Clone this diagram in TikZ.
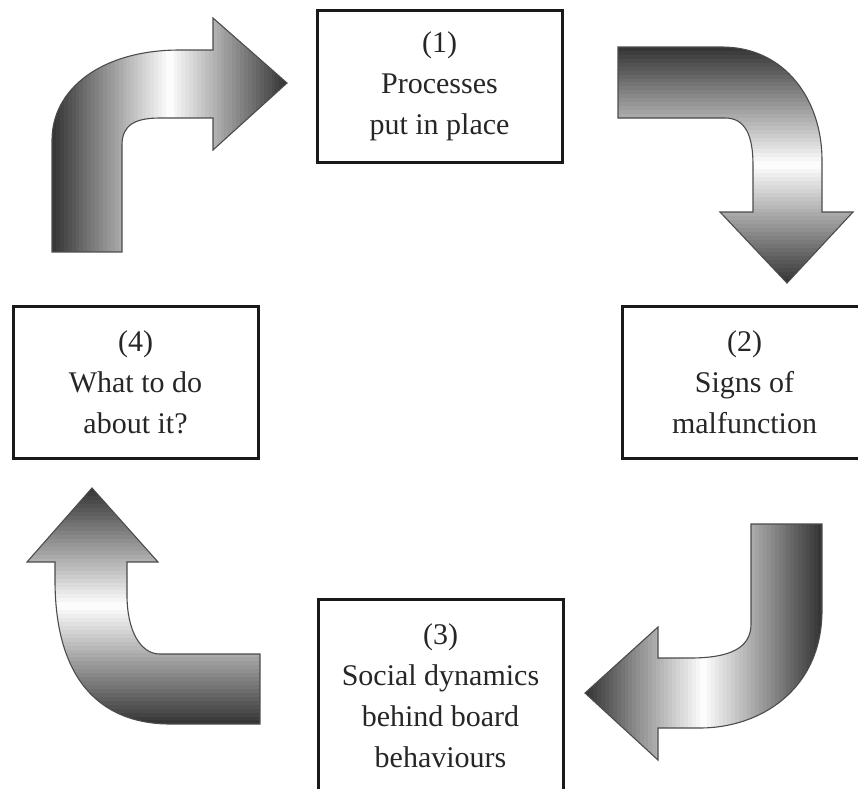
\documentclass[tikz,border=0pt]{standalone}
\usepackage{fontspec}
\setmainfont{Liberation Serif}
\usetikzlibrary{positioning}

\begin{document}
\begin{tikzpicture}[
    x=1pt, y=-1pt,
    box/.style={draw=black!90, line width=3pt, align=center, inner sep=0pt,
        minimum width=245pt, minimum height=152pt, text=black!85,
        node font=\fontsize{30}{41}\selectfont},
    bend arrow/.style={draw=black!70, line width=1.1pt, line join=miter},
]
\useasboundingbox (0,0) rectangle (858,788);

\node[box] (put) at (439.5,86) {(1)\\ Processes\\ put in place};
\node[box] (sign) at (744.5,382.5) {(2)\\ Signs of\\ malfunction};
\node[box, minimum height=194pt] (soc) at (440.5,696) {(3)\\ Social dynamics\\ behind board\\ behaviours};
\node[box] (todo) at (135.5,382) {(4)\\ What to do\\ about it?};

% (4) -> (1)
\path[save path=\arrA] (52,252) -- (52,140) .. controls (52,90) and (100,50) .. (180,50)
    -- (213,50) -- (213,18) -- (287,83) -- (213,150) -- (213,118) -- (160,118)
    .. controls (135,118) and (122,125) .. (122,145) -- (122,252) -- cycle;
% (1) -> (2)
\path[save path=\arrB] (618,47) -- (722,47) .. controls (785,47) and (822,100) .. (822,160)
    -- (822,212) -- (853,212) -- (787,283) -- (720,212) -- (753,212) -- (753,165)
    .. controls (753,135) and (745,118) .. (725,118) -- (618,118) -- cycle;
% (2) -> (3)
\path[save path=\arrC] (822,524) -- (822,610) .. controls (822,690) and (760,728) .. (700,728)
    -- (658,728) -- (658,760) -- (585,693) -- (658,627) -- (658,658) -- (690,658)
    .. controls (730,658) and (751,648) .. (751,624) -- (751,524) -- cycle;
% (3) -> (4)
\path[save path=\arrD] (260,724) -- (170,724) .. controls (110,724) and (55,690) .. (55,580)
    -- (55,562) -- (27,562) -- (92,488) -- (158,562) -- (127,562) -- (127,595)
    .. controls (127,630) and (140,654) .. (160,654) -- (260,654) -- cycle;

% dark - white - dark strips
\begin{scope}
\clip[use path=\arrA];
\foreach \i in {0,...,59} {
    \pgfmathsetmacro\s{80*abs(2*(\i+0.5)/60-1)}
    \fill[black!\s] ({52+\i*3.92},18) rectangle ({52.6+(\i+1)*3.92},252);
}
\end{scope}
\begin{scope}
\clip[use path=\arrB];
\foreach \i in {0,...,59} {
    \pgfmathsetmacro\s{80*abs(2*(\i+0.5)/60-1)}
    \fill[black!\s] (618,{47+\i*3.94}) rectangle (853,{47.6+(\i+1)*3.94});
}
\end{scope}
\begin{scope}
\clip[use path=\arrC];
\foreach \i in {0,...,59} {
    \pgfmathsetmacro\s{80*abs(2*(\i+0.5)/60-1)}
    \fill[black!\s] ({585+\i*3.95},524) rectangle ({585.6+(\i+1)*3.95},760);
}
\end{scope}
\begin{scope}
\clip[use path=\arrD];
\foreach \i in {0,...,59} {
    \pgfmathsetmacro\s{80*abs(2*(\i+0.5)/60-1)}
    \fill[black!\s] (27,{488+\i*3.94}) rectangle (260,{488.6+(\i+1)*3.94});
}
\end{scope}

\draw[bend arrow, use path=\arrA];
\draw[bend arrow, use path=\arrB];
\draw[bend arrow, use path=\arrC];
\draw[bend arrow, use path=\arrD];
\end{tikzpicture}
\end{document}
